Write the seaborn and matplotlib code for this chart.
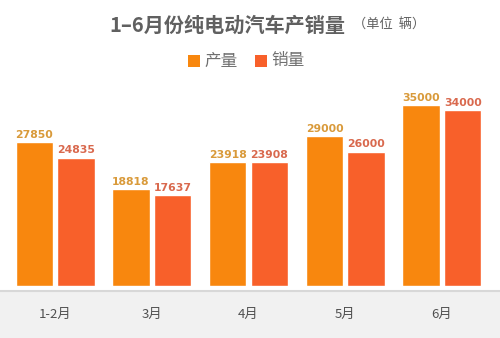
import matplotlib
matplotlib.use("Agg")
import matplotlib.pyplot as plt
from matplotlib.patches import Rectangle
from matplotlib.lines import Line2D
import seaborn as sns
import pandas as pd

months = ["1-2月", "3月", "4月", "5月", "6月"]
production = [27850, 18818, 23918, 29000, 35000]
sales = [24835, 17637, 23908, 26000, 34000]
series_names = ["产量", "销量"]

sns.set_theme(style="white")
plt.rcParams['font.family'] = ['Noto Sans CJK SC', 'DejaVu Sans']

colors = {"产量": "#F8870E", "销量": "#F8602A"}
label_colors = {"产量": "#D99A3A", "销量": "#D9694E"}

df = pd.DataFrame({
    "月份": months * 2,
    "值": production + sales,
    "类型": [series_names[0]] * len(months) + [series_names[1]] * len(months),
})

fig = plt.figure(figsize=(5.0, 3.38), dpi=100)
fig.patch.set_facecolor("white")

# grey band at bottom
fig.patches.append(Rectangle((0, 0), 1, (338 - 291) / 338, transform=fig.transFigure,
                             facecolor="#F1F1F1", edgecolor="none", zorder=0))
fig.lines.append(Line2D([0, 1], [(338 - 291) / 338] * 2, transform=fig.transFigure,
                        color="#D8D8D8", lw=1.5, zorder=1))

ax = fig.add_axes([0, (338 - 286) / 338, 1, 196 / 338])
ax.set_facecolor("none")
sns.barplot(data=df, x="月份", y="值", hue="类型", palette=colors, width=0.86, gap=0.1,
            legend=False, ax=ax, saturation=1)
ax.set_xlim(-0.57, 4.6)
ax.set_ylim(0, 37900)
ax.axis("off")

for cont, name in zip(ax.containers, series_names):
    ax.bar_label(cont, labels=[str(int(v)) for v in cont.datavalues], padding=1.5,
                 color=label_colors[name], fontsize=7.8, fontweight="bold",
                 family=["DejaVu Sans"])

# x tick labels in grey band
for i, m in enumerate(months):
    x_disp = ax.transData.transform((i, 0))[0]
    fig.text(x_disp / fig.dpi / 5.0, (338 - 314) / 338, m, ha="center", va="center",
             fontsize=9.5, color="#505050", fontweight="medium")

# title
fig.text(0.455, (338 - 25) / 338, "1–6月份纯电动汽车产销量", ha="center", va="center",
         fontsize=14.5, color="#606060", fontweight="bold")
fig.text(0.778, (338 - 25) / 338, "（单位  辆）", ha="center", va="center",
         fontsize=9.5, color="#606060")

# legend
ly = (338 - 61) / 338
for x0, name in [(188, series_names[0]), (255, series_names[1])]:
    fig.patches.append(Rectangle((x0 / 500, ly - 6 / 338), 12 / 500, 12 / 338,
                                 transform=fig.transFigure, facecolor=colors[name],
                                 edgecolor="none"))
    fig.text((x0 + 16) / 500, ly, name, ha="left", va="center", fontsize=12,
             color="#707070")

fig.savefig("out.png", dpi=100)
